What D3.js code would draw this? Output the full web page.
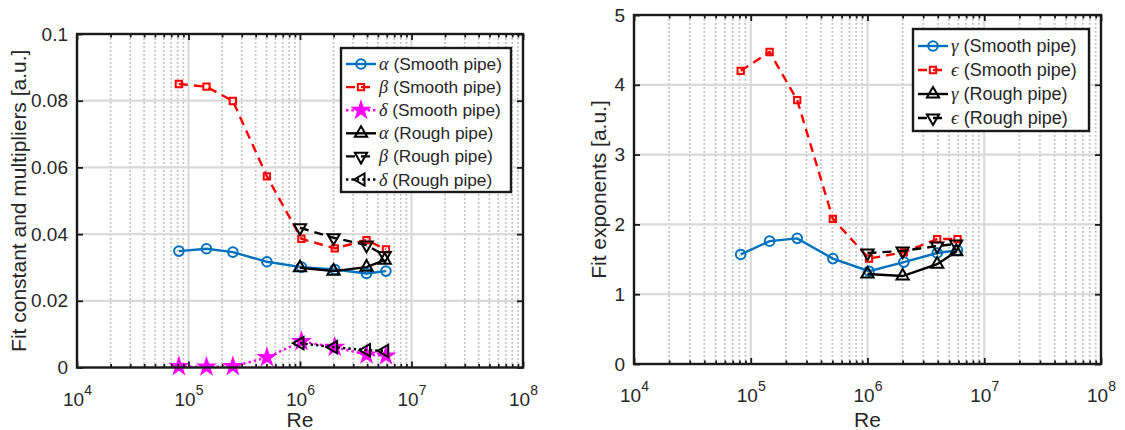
<!DOCTYPE html>
<html>
<head>
<meta charset="utf-8">
<script src="https://cdn.jsdelivr.net/npm/d3@7"></script>
<style>
  body { margin: 0; background: #fff; }
  svg text { font-family: "Liberation Sans", Arial, sans-serif; fill: #262626; }
  .greek { font-family: "Liberation Serif", "Times New Roman", serif; font-style: italic; }
</style>
</head>
<body>
<div id="chart"></div>
<script>
// Reynolds numbers of the fits
const reSmooth = [8.2e4, 1.45e5, 2.5e5, 5.05e5, 1.03e6, 2.05e6, 3.95e6, 5.9e6]
const reRough = [1e6, 2e6, 3.95e6, 5.75e6]
const decades = [1e4, 1e5, 1e6, 1e7, 1e8]

// left panel: constant and multipliers
const alphaSmooth = [0.0349, 0.0356, 0.0346, 0.0317, 0.0301, 0.0294, 0.0282, 0.0289]
const betaSmooth = [0.0850, 0.0842, 0.0799, 0.0573, 0.0386, 0.0357, 0.0382, 0.0354]
const deltaSmooth = [0.0003, 0.0002, 0.0003, 0.0030, 0.0078, 0.0061, 0.0038, 0.0035]
const alphaRough = [0.0299, 0.0289, 0.0301, 0.0322]
const betaRough = [0.0419, 0.0389, 0.0367, 0.0336]
const deltaRough = [0.0073, 0.0061, 0.0052, 0.0050]
const leftTicks = [0, 0.02, 0.04, 0.06, 0.08, 0.1]

// right panel: exponents
const gammaSmooth = [1.57, 1.76, 1.80, 1.51, 1.33, 1.46, 1.59, 1.63]
const epsSmooth = [4.20, 4.47, 3.78, 2.08, 1.51, 1.60, 1.79, 1.79]
const gammaRough = [1.29, 1.26, 1.43, 1.61]
const epsRough = [1.59, 1.62, 1.69, 1.72]
const rightTicks = [0, 1, 2, 3, 4, 5]

const BLUE = "#0072BD", RED = "#FF0000", MAGENTA = "#FF00FF", BLACK = "#000"

const svg = d3.select("#chart")
  .append("svg")
  .attr("width", 1125)
  .attr("height", 430)

const drawPanel = (p) => {
  const x = d3.scaleLog().domain([1e4, 1e8]).range([p.left, p.right])
  const y = d3.scaleLinear().domain([p.ticks[0], p.ticks[p.ticks.length - 1]]).range([p.bottom, p.top])
  const g = svg.append("g")

  let minors = []
  decades.slice(0, -1).forEach(d => { for (let k = 2; k < 10; k++) minors.push(k * d) })

  // minor grid (dotted)
  g.selectAll(".minor-grid")
    .data(minors)
    .enter()
    .append("line")
    .attr("x1", d => x(d)).attr("x2", d => x(d))
    .attr("y1", p.top).attr("y2", p.bottom)
    .attr("stroke", "#bdbdbd")
    .attr("stroke-width", 1.7)
    .attr("stroke-dasharray", "1.7,2.3")

  // major grid
  g.selectAll(".vgrid")
    .data(decades)
    .enter()
    .append("line")
    .attr("x1", d => x(d)).attr("x2", d => x(d))
    .attr("y1", p.top).attr("y2", p.bottom)
    .attr("stroke", "#dadada")
    .attr("stroke-width", 2.2)
  g.selectAll(".hgrid")
    .data(p.ticks)
    .enter()
    .append("line")
    .attr("x1", p.left).attr("x2", p.right)
    .attr("y1", d => y(d)).attr("y2", d => y(d))
    .attr("stroke", "#dadada")
    .attr("stroke-width", 2.2)

  // series
  p.series.forEach(s => {
    g.append("path")
      .datum(s.values.map((v, i) => [s.re[i], v]))
      .attr("fill", "none")
      .attr("stroke", s.color)
      .attr("stroke-width", 2.4)
      .attr("stroke-dasharray", s.dash)
      .attr("d", d3.line().x(d => x(d[0])).y(d => y(d[1])))
    g.selectAll(null)
      .data(s.values.map((v, i) => [s.re[i], v]))
      .enter()
      .append("path")
      .attr("d", d3.symbol().type(s.symbol).size(s.size))
      .attr("transform", d => `translate(${x(d[0])},${y(d[1])}) rotate(${s.rot || 0})`)
      .attr("fill", s.filled ? s.color : "none")
      .attr("stroke", s.color)
      .attr("stroke-width", 2)
  })

  // axes, ticks pointing inward
  const styleAxis = sel => {
    sel.select(".domain").remove()
    sel.selectAll(".tick line").attr("stroke", "#1a1a1a").attr("stroke-width", 1.8)
  }
  g.append("g").attr("transform", `translate(0,${p.bottom})`)
    .call(d3.axisBottom(x).tickValues(minors).tickSize(-3.5).tickFormat(""))
    .call(styleAxis)
  g.append("g").attr("transform", `translate(0,${p.top})`)
    .call(d3.axisTop(x).tickValues(minors).tickSize(-3.5).tickFormat(""))
    .call(styleAxis)
  g.append("g").attr("transform", `translate(0,${p.top})`)
    .call(d3.axisTop(x).tickValues(decades).tickSize(-6).tickFormat(""))
    .call(styleAxis)
  const xb = g.append("g").attr("transform", `translate(0,${p.bottom})`)
    .call(d3.axisBottom(x).tickValues(decades).tickSize(-6).tickPadding(0))
    .call(styleAxis)
  xb.selectAll(".tick text").each(function (d) {
    const t = d3.select(this).text(null)
      .attr("font-size", 19).attr("dy", null).attr("y", 38).attr("fill", "#262626")
    t.append("tspan").text("10")
    t.append("tspan").attr("dy", -11).attr("font-size", 14).text(Math.round(Math.log10(d)))
  })
  g.append("g").attr("transform", `translate(${p.left},0)`)
    .call(d3.axisLeft(y).tickValues(p.ticks).tickSize(-6).tickPadding(9).tickFormat(d3.format("~g")))
    .call(styleAxis)
    .call(a => a.selectAll(".tick text").attr("font-size", 19).attr("fill", "#262626"))
  g.append("g").attr("transform", `translate(${p.right},0)`)
    .call(d3.axisRight(y).tickValues(p.ticks).tickSize(-6).tickFormat(""))
    .call(styleAxis)

  g.append("rect")
    .attr("x", p.left).attr("y", p.top)
    .attr("width", p.right - p.left).attr("height", p.bottom - p.top)
    .attr("fill", "none").attr("stroke", "#1a1a1a").attr("stroke-width", 2.4)

  // axis labels
  g.append("text")
    .attr("x", x(1e6)).attr("y", 427)
    .attr("text-anchor", "middle").attr("font-size", 21)
    .text("Re")
  g.append("text")
    .attr("transform", `translate(${p.ylabelX},${(p.top + p.bottom) / 2}) rotate(-90)`)
    .attr("text-anchor", "middle").attr("font-size", 21)
    .text(p.ylabel)

  // legend
  const L = p.legend
  g.append("rect")
    .attr("x", L.x).attr("y", L.y).attr("width", L.w).attr("height", L.h)
    .attr("fill", "#fff").attr("stroke", "#1a1a1a").attr("stroke-width", 2.4)
  p.series.forEach((s, i) => {
    const ry = L.row0 + i * L.step
    const lx0 = L.x + 5, lx1 = L.x + 35
    g.append("line")
      .attr("x1", lx0).attr("x2", lx1).attr("y1", ry).attr("y2", ry)
      .attr("stroke", s.color).attr("stroke-width", 2.4).attr("stroke-dasharray", s.dash)
    g.append("path")
      .attr("d", d3.symbol().type(s.symbol).size(s.size))
      .attr("transform", `translate(${(lx0 + lx1) / 2},${ry}) rotate(${s.rot || 0})`)
      .attr("fill", s.filled ? s.color : "none")
      .attr("stroke", s.color).attr("stroke-width", 2)
    const t = g.append("text")
      .attr("x", lx1 + 3).attr("y", ry + 6)
      .attr("font-size", L.font).attr("fill", "#000")
    t.append("tspan").attr("class", "greek").attr("font-size", L.font + 1).text(s.greek)
    t.append("tspan").text(" " + s.label)
  })
}

drawPanel({
  left: 77, right: 523, top: 34, bottom: 367.5,
  ticks: leftTicks,
  ylabel: "Fit constant and multipliers [a.u.]", ylabelX: 26,
  legend: { x: 341, y: 48, w: 170, h: 144, row0: 64, step: 23.1, font: 17.3 },
  series: [
    { greek: "α", label: "(Smooth pipe)", re: reSmooth, values: alphaSmooth, color: BLUE, dash: null, symbol: d3.symbolCircle, size: 72 },
    { greek: "β", label: "(Smooth pipe)", re: reSmooth, values: betaSmooth, color: RED, dash: "9,6", symbol: d3.symbolSquare, size: 40 },
    { greek: "δ", label: "(Smooth pipe)", re: reSmooth, values: deltaSmooth, color: MAGENTA, dash: "2.4,3", symbol: d3.symbolStar, size: 70, filled: true },
    { greek: "α", label: "(Rough pipe)", re: reRough, values: alphaRough, color: BLACK, dash: null, symbol: d3.symbolTriangle, size: 65 },
    { greek: "β", label: "(Rough pipe)", re: reRough, values: betaRough, color: BLACK, dash: "9,6", symbol: d3.symbolTriangle, size: 65, rot: 180 },
    { greek: "δ", label: "(Rough pipe)", re: reRough, values: deltaRough, color: BLACK, dash: "2.4,3", symbol: d3.symbolTriangle, size: 65, rot: -90 }
  ]
})

drawPanel({
  left: 634, right: 1101, top: 15, bottom: 364,
  ticks: rightTicks,
  ylabel: "Fit exponents [a.u.]", ylabelX: 606,
  legend: { x: 913, y: 29, w: 176, h: 102, row0: 46, step: 24, font: 18 },
  series: [
    { greek: "γ", label: "(Smooth pipe)", re: reSmooth, values: gammaSmooth, color: BLUE, dash: null, symbol: d3.symbolCircle, size: 72 },
    { greek: "ϵ", label: "(Smooth pipe)", re: reSmooth, values: epsSmooth, color: RED, dash: "9,6", symbol: d3.symbolSquare, size: 40 },
    { greek: "γ", label: "(Rough pipe)", re: reRough, values: gammaRough, color: BLACK, dash: null, symbol: d3.symbolTriangle, size: 65 },
    { greek: "ϵ", label: "(Rough pipe)", re: reRough, values: epsRough, color: BLACK, dash: "9,6", symbol: d3.symbolTriangle, size: 65, rot: 180 }
  ]
})
</script>
</body>
</html>
